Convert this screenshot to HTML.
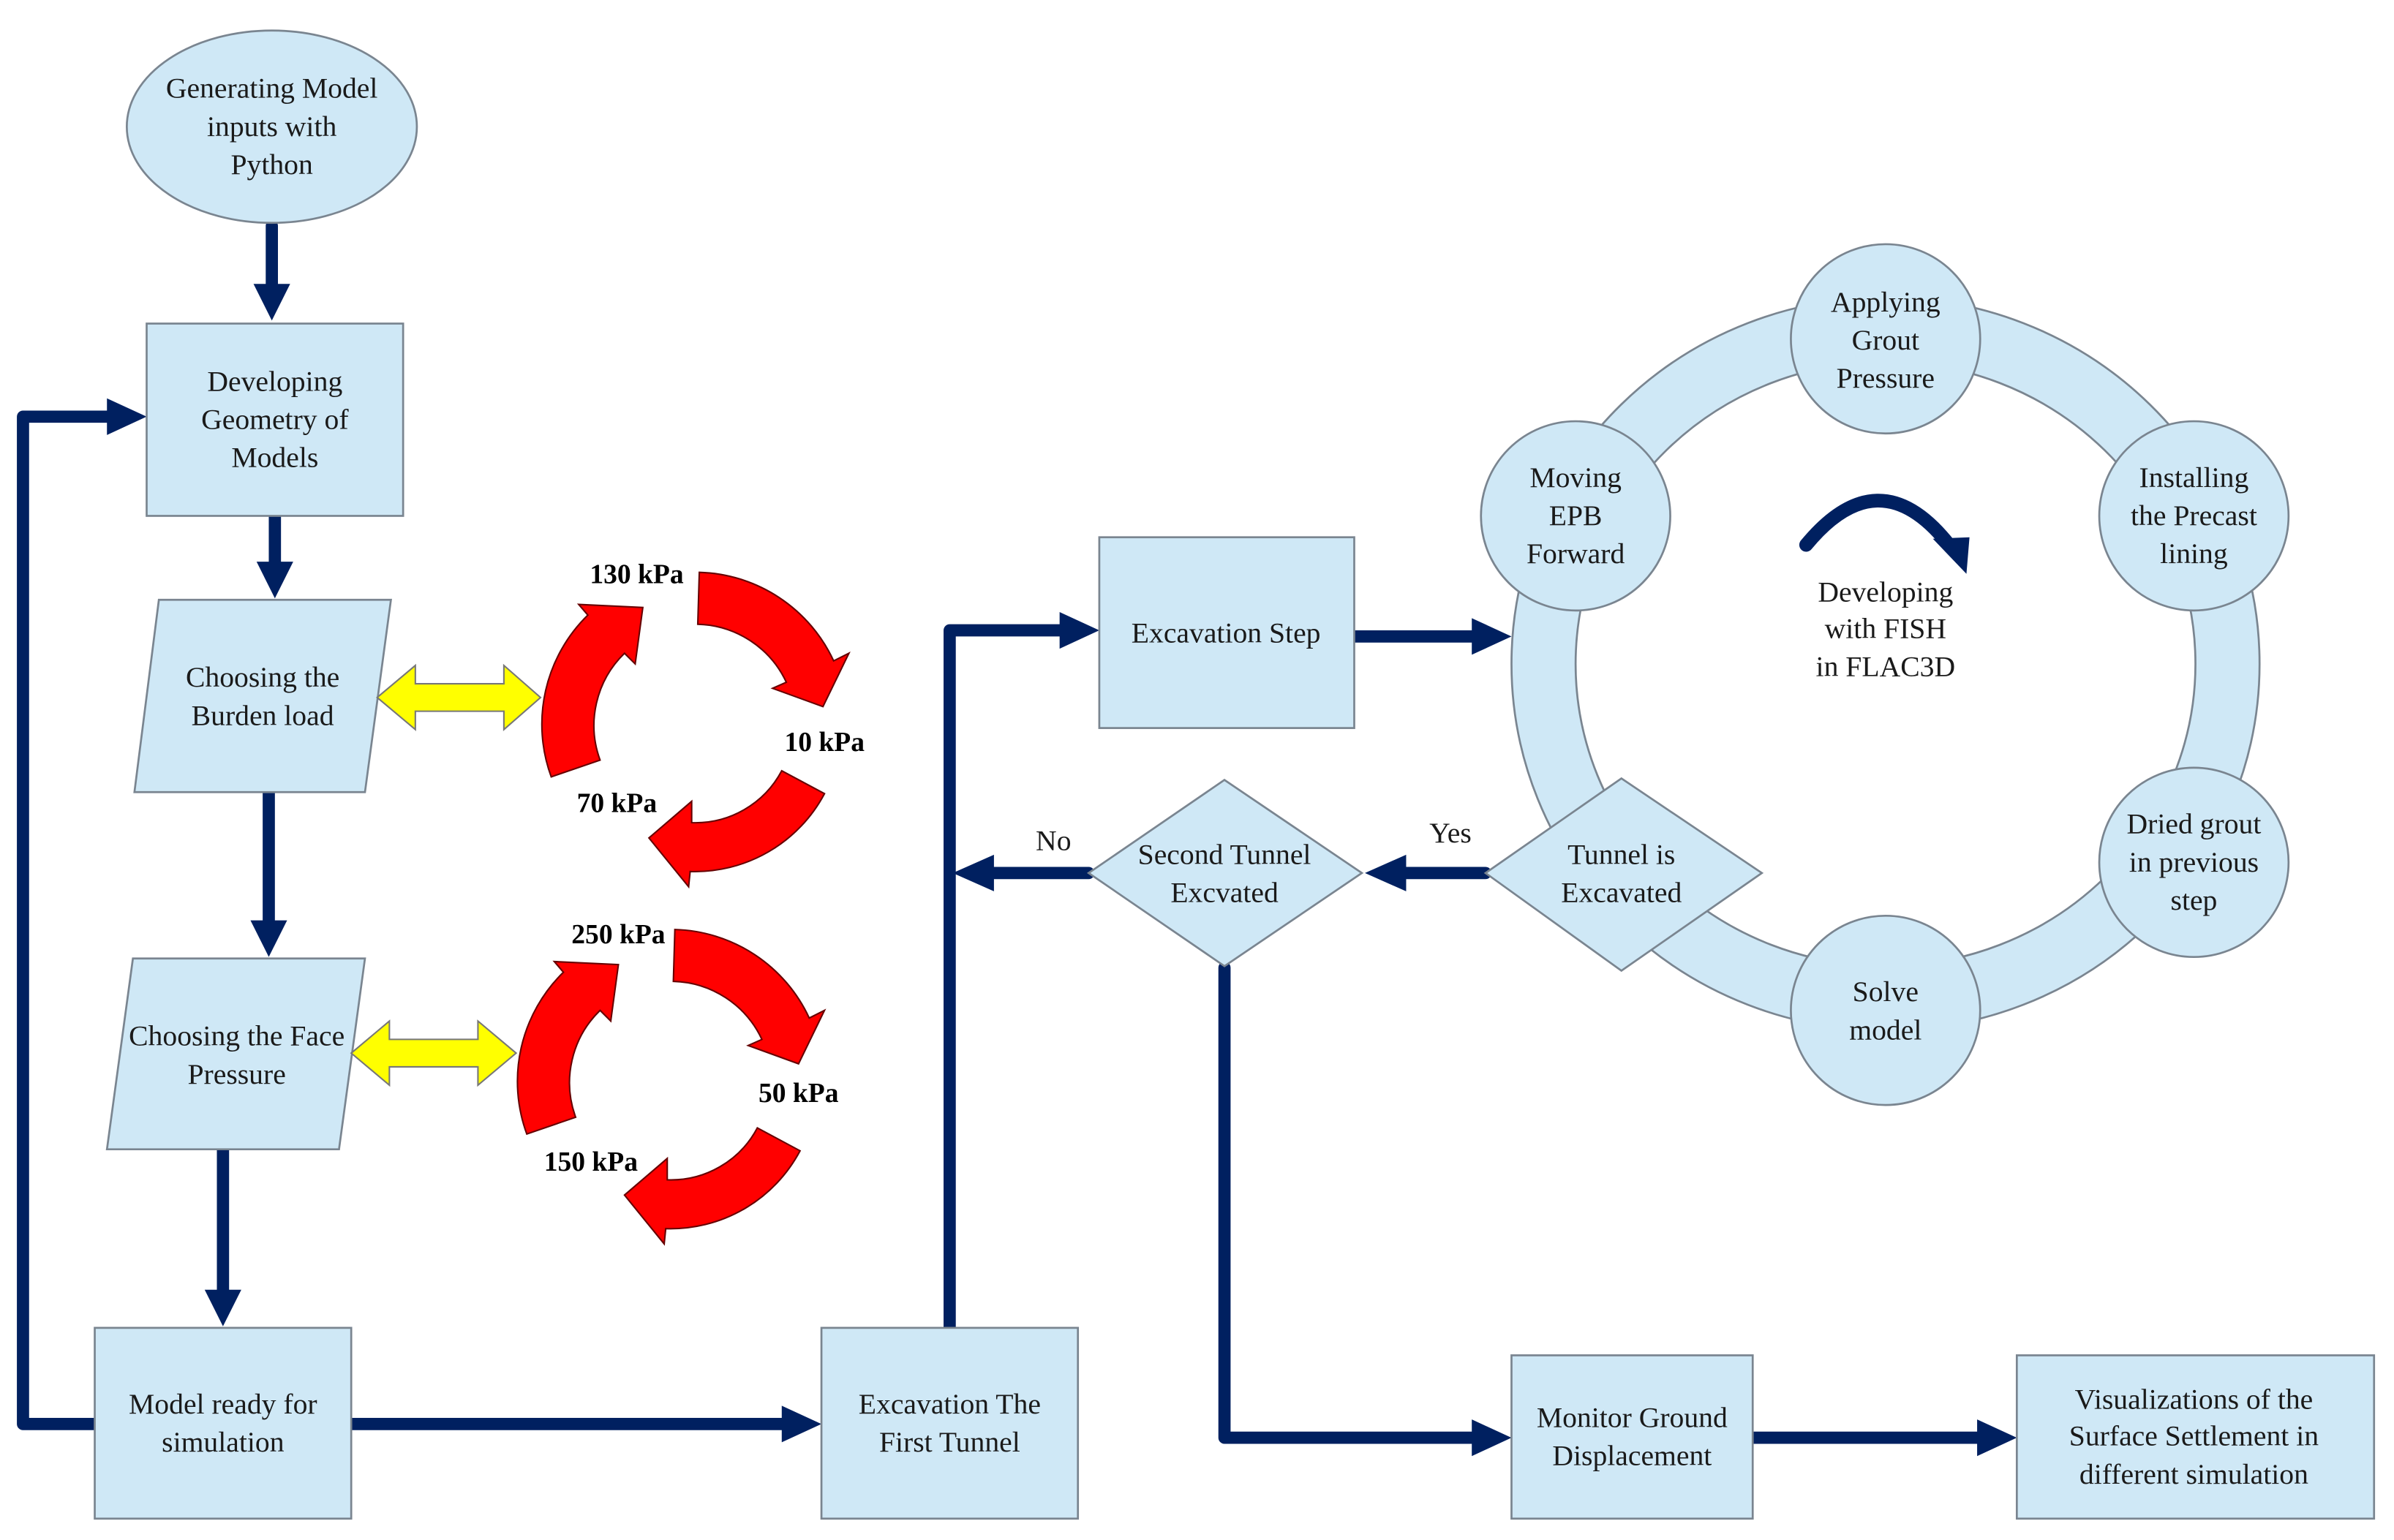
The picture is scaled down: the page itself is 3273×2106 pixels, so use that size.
<!DOCTYPE html>
<html><head><meta charset="utf-8"><style>
html,body{margin:0;padding:0;background:#fff;}
svg{display:block;}
text{font-family:"Liberation Serif","Times New Roman","DejaVu Serif",serif;font-size:19px;fill:#1a1a1a;text-anchor:middle;}
.b{font-weight:bold;font-size:18px;fill:#000;}
.sh{fill:#cfe8f6;stroke:#7a8590;stroke-width:1.3;}
.ln{fill:none;stroke:#002060;stroke-width:8;stroke-linecap:round;stroke-linejoin:round;}
.ah{fill:#002060;}
.red{fill:#ff0000;stroke:#600;stroke-width:1;}
.yel{fill:#ffff00;stroke:#777;stroke-width:1;}
</style></head><body>
<svg width="3273" height="2106" viewBox="0 0 1568 1009" xmlns="http://www.w3.org/2000/svg">
<path class="ln" d="M178,148 L178,186"/><polygon class="ah" points="166,186 190,186 178,210"/>
<path class="ln" d="M180,338 L180,368"/><polygon class="ah" points="168,368 192,368 180,392"/>
<path class="ln" d="M176,519 L176,603"/><polygon class="ah" points="164,603 188,603 176,627"/>
<path class="ln" d="M146,753 L146,845"/><polygon class="ah" points="134,845 158,845 146,869"/>
<path class="ln" d="M62,933 L15,933 L15,273 L72,273"/><polygon class="ah" points="70,261 70,285 96,273"/>
<path class="ln" d="M230,933 L512,933"/><polygon class="ah" points="512,921 512,945 538,933"/>
<path class="ln" d="M622,870 L622,413 L694,413"/><polygon class="ah" points="694,401 694,425 720,413"/>
<path class="ln" d="M887,417 L964,417"/><polygon class="ah" points="964,405 964,429 990,417"/>
<path class="ln" d="M973,572 L920,572"/><polygon class="ah" points="921,560 921,584 894,572"/>
<path class="ln" d="M713,572 L650,572"/><polygon class="ah" points="651,560 651,584 624,572"/>
<path class="ln" d="M802,634 L802,942 L964,942"/><polygon class="ah" points="964,930 964,954 990,942"/>
<path class="ln" d="M1148,942 L1295,942"/><polygon class="ah" points="1295,930 1295,954 1321,942"/>
<text x="690" y="557">No</text><text x="950" y="552">Yes</text>

<ellipse class="sh" cx="178" cy="83" rx="95" ry="63"/>
<text x="178" y="64">Generating Model</text><text x="178" y="89">inputs with</text><text x="178" y="114">Python</text>
<rect class="sh" x="96" y="212" width="168" height="126"/>
<text x="180" y="256">Developing</text><text x="180" y="281">Geometry of</text><text x="180" y="306">Models</text>
<polygon class="sh" points="104,393 256,393 239,519 88,519"/>
<text x="172" y="450">Choosing the</text><text x="172" y="475">Burden load</text>
<polygon class="sh" points="87,628 239,628 222,753 70,753"/>
<text x="155" y="685">Choosing the Face</text><text x="155" y="710">Pressure</text>
<rect class="sh" x="62" y="870" width="168" height="125"/>
<text x="146" y="926">Model ready for</text><text x="146" y="951">simulation</text>
<rect class="sh" x="538" y="870" width="168" height="125"/>
<text x="622" y="926">Excavation The</text><text x="622" y="951">First Tunnel</text>
<rect class="sh" x="720" y="352" width="167" height="125"/>
<text x="803" y="421">Excavation Step</text>

<polygon class="yel" points="247,457 272,436 272,448 330,448 330,436 354,457 330,478 330,466 272,466 272,478"/>
<polygon class="yel" points="230,690 255,669 255,681 313,681 313,669 338,690 313,711 313,699 255,699 255,711"/>

<g>
<path class="red" d="M361,509 A100,100 0 0 1 385,403 L379,396 L421,398 L416,435 L409,428 A66,66 0 0 0 393,498 Z"/>
<path class="red" d="M458,375 A100,100 0 0 1 546,433 L556,428 L539,463 L506,451 L515,447 A66,66 0 0 0 457,409 Z"/>
<path class="red" d="M540,520 A96,96 0 0 1 452,571 L451,581 L425,549 L453,525 L453,539 A64,64 0 0 0 512,505 Z"/>
</g>
<g transform="translate(-16,234)">
<path class="red" d="M361,509 A100,100 0 0 1 385,403 L379,396 L421,398 L416,435 L409,428 A66,66 0 0 0 393,498 Z"/>
<path class="red" d="M458,375 A100,100 0 0 1 546,433 L556,428 L539,463 L506,451 L515,447 A66,66 0 0 0 457,409 Z"/>
<path class="red" d="M540,520 A96,96 0 0 1 452,571 L451,581 L425,549 L453,525 L453,539 A64,64 0 0 0 512,505 Z"/>
</g>
<text class="b" x="417" y="382">130 kPa</text><text class="b" x="540" y="492">10 kPa</text><text class="b" x="404" y="532">70 kPa</text>
<text class="b" x="405" y="618">250 kPa</text><text class="b" x="523" y="722">50 kPa</text><text class="b" x="387" y="767">150 kPa</text>

<path class="sh" fill-rule="evenodd" d="M990,435 A245,240 0 1 0 1480,435 A245,240 0 1 0 990,435 Z M1032,435 A203,198 0 1 1 1438,435 A203,198 0 1 1 1032,435 Z"/>
<circle class="sh" cx="1235" cy="222" r="62"/>
<text x="1235" y="204">Applying</text><text x="1235" y="229">Grout</text><text x="1235" y="254">Pressure</text>
<circle class="sh" cx="1032" cy="338" r="62"/>
<text x="1032" y="319">Moving</text><text x="1032" y="344">EPB</text><text x="1032" y="369">Forward</text>
<circle class="sh" cx="1437" cy="338" r="62"/>
<text x="1437" y="319">Installing</text><text x="1437" y="344">the Precast</text><text x="1437" y="369">lining</text>
<circle class="sh" cx="1437" cy="565" r="62"/>
<text x="1437" y="546">Dried grout</text><text x="1437" y="571">in previous</text><text x="1437" y="596">step</text>
<circle class="sh" cx="1235" cy="662" r="62"/>
<text x="1235" y="656">Solve</text><text x="1235" y="681">model</text>
<polygon class="sh" points="1062,510 1154,572 1062,636 973,572"/>
<text x="1062" y="566">Tunnel is</text><text x="1062" y="591">Excavated</text>
<polygon class="sh" points="802,511 892,572 802,633 713,572"/>
<text x="802" y="566">Second Tunnel</text><text x="802" y="591">Excvated</text>

<path d="M1183,357 Q1230,300 1275,355" fill="none" stroke="#002060" stroke-width="9" stroke-linecap="round"/>
<polygon class="ah" points="1266,353 1290,352 1288,376"/>
<text x="1235" y="394">Developing</text><text x="1235" y="418">with FISH</text><text x="1235" y="443">in FLAC3D</text>

<rect class="sh" x="990" y="888" width="158" height="107"/>
<text x="1069" y="935">Monitor Ground</text><text x="1069" y="960">Displacement</text>
<rect class="sh" x="1321" y="888" width="234" height="107"/>
<text x="1437" y="923">Visualizations of the</text><text x="1437" y="947">Surface Settlement in</text><text x="1437" y="972">different simulation</text>
</svg>
</body></html>
